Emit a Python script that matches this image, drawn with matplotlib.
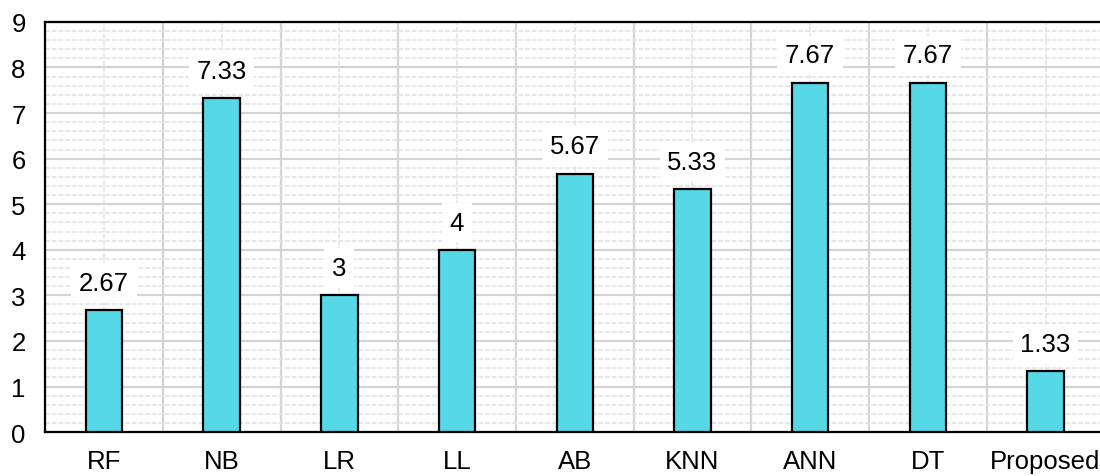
import matplotlib
matplotlib.use("Agg")
from matplotlib import pyplot as plt
from matplotlib.ticker import MultipleLocator

models = ["RF", "NB", "LR", "LL", "AB", "KNN", "ANN", "DT", "Proposed"]
scores = [2.67, 7.33, 3, 4, 5.67, 5.33, 7.67, 7.67, 1.33]
score_labels = ["2.67", "7.33", "3", "4", "5.67", "5.33", "7.67", "7.67", "1.33"]

plt.rcParams['font.family'] = ['Liberation Sans', 'DejaVu Sans']

fig = plt.figure(figsize=(11, 4.77), dpi=100)
ax = fig.add_axes([0.041, 0.092, 0.963, 0.860])

xs = list(range(len(models)))
ax.bar(xs, scores, width=0.31, color="#56d8e6", edgecolor="black",
       linewidth=1.6, zorder=3)

for x, v, lab in zip(xs, scores, score_labels):
    ax.annotate(lab, (x, v), xytext=(0, 11), textcoords="offset points",
                ha="center", va="bottom", fontsize=18.5, zorder=4,
                bbox=dict(boxstyle="square,pad=0.3", fc="white", ec="none"))

ax.set_xlim(-0.5, len(models) - 0.5)
ax.set_ylim(0, 9)
ax.yaxis.set_major_locator(MultipleLocator(1))
ax.yaxis.set_minor_locator(MultipleLocator(0.2))
# vertical grid: solid at category borders, dashed at centres
ax.set_xticks(xs)
ax.set_xticklabels(models, fontsize=18.5)
ax.set_xticks([x + 0.5 for x in xs[:-1]], minor=True)

ax.grid(axis="y", which="major", color="#d4d4d4", linewidth=1.6, zorder=0)
ax.grid(axis="y", which="minor", color="#e4e4e4", linewidth=1.2,
        linestyle=(0, (3, 1)), zorder=0)
ax.grid(axis="x", which="minor", color="#d4d4d4", linewidth=1.6, zorder=0)
ax.grid(axis="x", which="major", color="#e4e4e4", linewidth=1.2,
        linestyle=(0, (3, 1)), zorder=0)

ax.tick_params(axis="both", which="both", length=0)
ax.tick_params(axis="y", labelsize=18.5, pad=14)
ax.tick_params(axis="x", pad=12)
for s in ax.spines.values():
    s.set_linewidth(1.6)
    s.set_color("black")

plt.savefig("out.png", dpi=100)
